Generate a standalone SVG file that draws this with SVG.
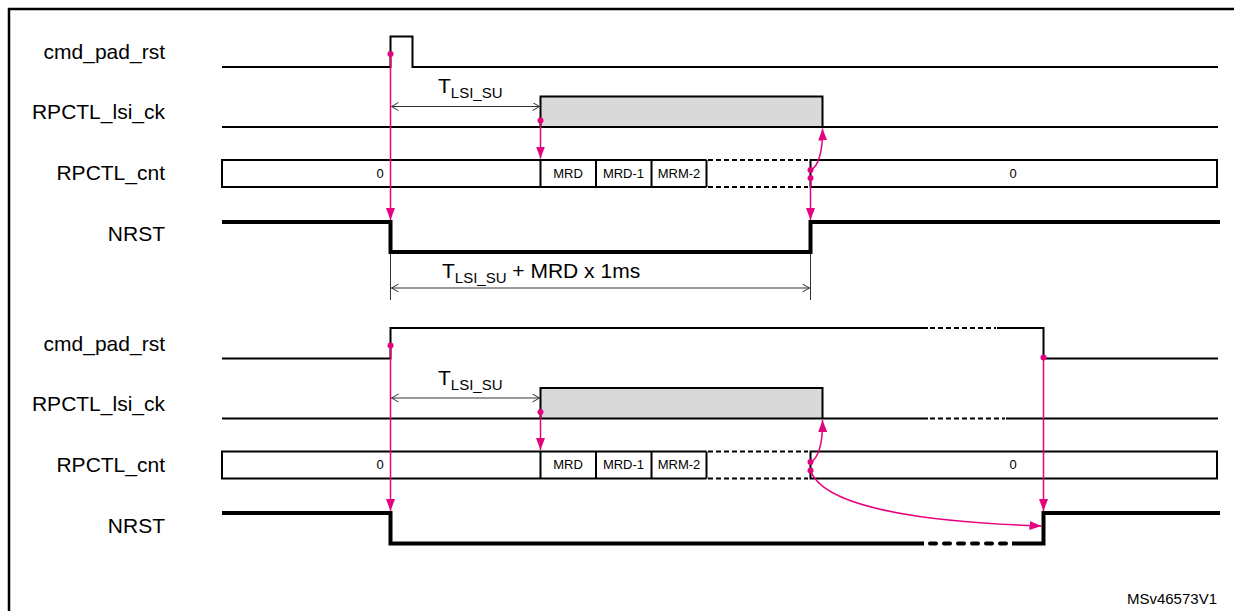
<svg xmlns="http://www.w3.org/2000/svg" width="1234" height="611" viewBox="0 0 1234 611">
<style>
.lbl{font-family:"Liberation Sans",Arial,sans-serif;font-size:21px;fill:#000;text-anchor:end}
.bt{font-family:"Liberation Sans",Arial,sans-serif;font-size:13px;fill:#000;text-anchor:middle}
.mt{font-family:"Liberation Sans",Arial,sans-serif;font-size:21px;fill:#000}
.sig{fill:none;stroke:#000;stroke-width:2;stroke-linejoin:miter}
.dsig{fill:none;stroke:#000;stroke-width:2;stroke-dasharray:5 3}
.nr{fill:none;stroke:#000;stroke-width:4;stroke-linejoin:miter}
.dnr{fill:none;stroke:#000;stroke-width:4;stroke-dasharray:6 8;stroke-linecap:round}
.gray{fill:#d9d9d9;stroke:none}
.pka{fill:none;stroke:#e5007e;stroke-width:1.5;marker-end:url(#ah)}
.dot{fill:#e5007e}
.ms{fill:none;stroke:#333;stroke-width:1;marker-start:url(#oa);marker-end:url(#oa)}
.thin{fill:none;stroke:#333;stroke-width:1}
</style>
<defs>
<marker id="ah" markerUnits="userSpaceOnUse" markerWidth="12" markerHeight="10" refX="12" refY="4.5" orient="auto">
<path d="M0,0 L12,4.5 L0,9 z" fill="#e5007e"/>
</marker>
<marker id="oa" markerUnits="userSpaceOnUse" markerWidth="10" markerHeight="10" refX="8" refY="4" orient="auto-start-reverse">
<path d="M1,0 L8,4 L1,8" fill="none" stroke="#333" stroke-width="1"/>
</marker>
</defs>
<rect x="9" y="9" width="1240" height="620" fill="#fff" stroke="#000" stroke-width="2.5"/>

<g id="top">
<g id="top-labels">
<text class="lbl" x="165" y="59">cmd_pad_rst</text>
<text class="lbl" x="165" y="119">RPCTL_lsi_ck</text>
<text class="lbl" x="165" y="180">RPCTL_cnt</text>
<text class="lbl" x="165" y="241">NRST</text>
</g>
<g id="top-cmd_pad_rst">
<path class="sig" d="M222,67 H390.5 V36.5 H412.5 V67 H1218"/>
</g>
<g id="top-lsi_ck">
<rect class="gray" x="540.5" y="96.5" width="282" height="30.5"/>
<path class="sig" d="M222,127 H1218"/>
<path class="sig" d="M540.5,127 V96.5 H822.5 V127"/>
</g>
<g id="top-cnt">
<path class="sig" d="M706.5,160 H222 V187 H706.5"/>
<path class="sig" d="M540.5,160 V187 M596,160 V187 M651.5,160 V187 M706.5,160 V187"/>
<path class="dsig" d="M708,160 H808 M708,187 H808"/>
<path class="sig" d="M810.5,160 H1217 V187 H810.5 Z"/>
<text class="bt" x="380" y="177.5">0</text>
<text class="bt" x="568" y="177.5">MRD</text>
<text class="bt" x="623.5" y="177.5">MRD-1</text>
<text class="bt" x="679" y="177.5">MRM-2</text>
<text class="bt" x="1013" y="177.5">0</text>
</g>
<g id="top-nrst">
<path class="nr" d="M222,222 H390.5 V252 H810.5 V222 H1220"/>
</g>
<g id="top-measures">
<text class="mt" x="438" y="93">T<tspan font-size="15" dy="5">LSI_SU</tspan></text>
<path class="ms" d="M391.5,106.5 H539.5"/>
<path class="thin" d="M390.5,254 V300 M810.5,254 V300"/>
<text class="mt" x="442" y="278">T<tspan font-size="15" dy="5">LSI_SU</tspan><tspan dy="-5"> + MRD x 1ms</tspan></text>
<path class="ms" d="M391.5,288 H809.5"/>
</g>
</g>

<g id="bottom">
<g id="bottom-labels">
<text class="lbl" x="165" y="350.5">cmd_pad_rst</text>
<text class="lbl" x="165" y="410.5">RPCTL_lsi_ck</text>
<text class="lbl" x="165" y="471.5">RPCTL_cnt</text>
<text class="lbl" x="165" y="532.5">NRST</text>
</g>
<g id="bottom-cmd_pad_rst">
<path class="sig" d="M222,358.5 H390.5 V328 H928"/>
<path class="dsig" d="M930,328 H996"/>
<path class="sig" d="M997,328 H1043.5 V358.5 H1218"/>
</g>
<g id="bottom-lsi_ck">
<rect class="gray" x="540.5" y="388" width="282" height="30.5"/>
<path class="sig" d="M222,418.5 H928"/>
<path class="dsig" d="M930,418.5 H1005"/>
<path class="sig" d="M1006,418.5 H1218"/>
<path class="sig" d="M540.5,418.5 V388 H822.5 V418.5"/>
</g>
<g id="bottom-cnt">
<path class="sig" d="M706.5,451.5 H222 V478.5 H706.5"/>
<path class="sig" d="M540.5,451.5 V478.5 M596,451.5 V478.5 M651.5,451.5 V478.5 M706.5,451.5 V478.5"/>
<path class="dsig" d="M708,451.5 H808 M708,478.5 H808"/>
<path class="sig" d="M810.5,451.5 H1217 V478.5 H810.5 Z"/>
<text class="bt" x="380" y="469">0</text>
<text class="bt" x="568" y="469">MRD</text>
<text class="bt" x="623.5" y="469">MRD-1</text>
<text class="bt" x="679" y="469">MRM-2</text>
<text class="bt" x="1013" y="469">0</text>
</g>
<g id="bottom-nrst">
<path class="nr" d="M222,513 H390.5 V543.5 H924"/>
<path class="dnr" d="M930,543.5 H1008"/>
<path class="nr" d="M1012,543.5 H1043.5 V513 H1220"/>
</g>
<g id="bottom-measures">
<text class="mt" x="438" y="384.5">T<tspan font-size="15" dy="5">LSI_SU</tspan></text>
<path class="ms" d="M391.5,398 H539.5"/>
</g>
</g>

<g id="connectors">
<path class="pka" d="M390.5,54 V220"/>
<path class="pka" d="M540.5,120.5 V158.5"/>
<path class="pka" d="M810.5,170 C818,167 823,152 822.5,128.5"/>
<path class="pka" d="M810.5,178 V220"/>
<circle class="dot" cx="390.5" cy="54" r="3"/>
<circle class="dot" cx="540.5" cy="120.5" r="3"/>
<circle class="dot" cx="810.5" cy="170" r="3"/>
<circle class="dot" cx="810.5" cy="178" r="3"/>

<path class="pka" d="M390.5,345.5 V511"/>
<path class="pka" d="M540.5,412 V450"/>
<path class="pka" d="M810.5,462 C818,459 823,444 822.5,420"/>
<path class="pka" d="M810.5,470.5 C825,512 950,523 1041.5,526"/>
<path class="pka" d="M1043.5,357.5 V511"/>
<circle class="dot" cx="390.5" cy="345.5" r="3"/>
<circle class="dot" cx="540.5" cy="412" r="3"/>
<circle class="dot" cx="810.5" cy="462" r="3"/>
<circle class="dot" cx="810.5" cy="470.5" r="3"/>
<circle class="dot" cx="1043.5" cy="357.5" r="3"/>
</g>

<text x="1217" y="604" font-family="Liberation Sans, Arial, sans-serif" font-size="15" text-anchor="end">MSv46573V1</text>
</svg>
